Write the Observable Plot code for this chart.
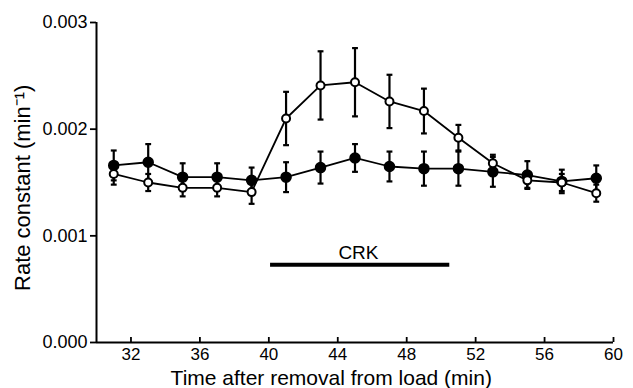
<!DOCTYPE html>
<html>
<head>
<meta charset="utf-8">
<script src="https://cdn.jsdelivr.net/npm/d3@7"></script>
<script src="https://cdn.jsdelivr.net/npm/@observablehq/plot@0.6"></script>
<style>
  html, body { margin: 0; padding: 0; background: #fff; }
</style>
</head>
<body>
<div id="chart"></div>
<script>
const times = [31, 33, 35, 37, 39, 41, 43, 45, 47, 49, 51, 53, 55, 57, 59];
const filledMean = [0.00166, 0.00169, 0.00155, 0.00155, 0.00152, 0.00155, 0.00164, 0.00173, 0.00165, 0.00163, 0.00163, 0.00160, 0.00157, 0.00151, 0.00154];
const filledErr  = [0.00014, 0.00017, 0.00013, 0.00013, 0.00012, 0.00014, 0.00015, 0.00013, 0.00014, 0.00016, 0.00016, 0.00014, 0.00013, 0.00011, 0.00012];
const openMean   = [0.00158, 0.00150, 0.00145, 0.00145, 0.00141, 0.00210, 0.00241, 0.00244, 0.00226, 0.00217, 0.00192, 0.00168, 0.00152, 0.00150, 0.00140];
const openErr    = [0.00010, 0.00008, 0.00008, 0.00008, 0.00011, 0.00025, 0.00032, 0.00032, 0.00025, 0.00021, 0.00012, 0.00008, 0.00007, 0.00008, 0.00008];
const xTicks = [32, 36, 40, 44, 48, 52, 56, 60];
const yTicks = [0, 0.001, 0.002, 0.003];
const crkStart = 40.1, crkEnd = 50.5, crkLevel = 0.00073;
const crkLabel = "CRK";
const xLabel = "Time after removal from load (min)";
const yLabel = "Rate constant (min\u207B\u00B9)";

const filled = times.map((t, i) => ({t, m: filledMean[i], e: filledErr[i]}));
const open = times.map((t, i) => ({t, m: openMean[i], e: openErr[i]}));
const cap = 0.17;

const errMarks = (data) => [
  Plot.ruleX(data, {x: "t", y1: d => d.m - d.e, y2: d => d.m + d.e, strokeWidth: 2.2}),
  Plot.link(data, {x1: d => d.t - cap, x2: d => d.t + cap, y1: d => d.m + d.e, y2: d => d.m + d.e, strokeWidth: 2.2}),
  Plot.link(data, {x1: d => d.t - cap, x2: d => d.t + cap, y1: d => d.m - d.e, y2: d => d.m - d.e, strokeWidth: 2.2})
];

const chart = Plot.plot({
  width: 633,
  height: 388,
  marginLeft: 96,
  marginRight: 20,
  marginTop: 22,
  marginBottom: 46,
  style: {fontFamily: "'Liberation Sans', Arial, sans-serif", fontSize: "18px", color: "#000", background: "#fff"},
  x: {domain: [30, 60]},
  y: {domain: [0, 0.003]},
  marks: [
    Plot.axisY({ticks: yTicks, tickFormat: d3.format(".3f"), tickSize: 6, tickPadding: 3, label: null, strokeWidth: 1.8, fontSize: 18}),
    Plot.axisX({ticks: xTicks, tickFormat: d => d, tickSize: 0, tickPadding: 5, label: null, fontSize: 17}),
    Plot.ruleX(xTicks, {x: d => d, y1: 0, y2: 0, insetTop: -5, strokeWidth: 1.8}),
    Plot.ruleX([30], {strokeWidth: 2}),
    Plot.ruleY([0], {strokeWidth: 2}),
    Plot.line(open, {x: "t", y: "m", strokeWidth: 1.8}),
    Plot.line(filled, {x: "t", y: "m", strokeWidth: 1.8}),
    ...errMarks(open),
    ...errMarks(filled),
    Plot.dot(filled, {x: "t", y: "m", r: 5, fill: "black", stroke: "black"}),
    Plot.dot(open, {x: "t", y: "m", r: 4, fill: "white", stroke: "black", strokeWidth: 2}),
    Plot.ruleY([crkLevel], {x1: crkStart, x2: crkEnd, strokeWidth: 4}),
    Plot.text([crkLabel], {x: 45.2, y: 0.00084, fontSize: 19}),
    Plot.text([xLabel], {x: 34.3, textAnchor: "start", frameAnchor: "bottom", dy: 42, fontSize: 21}),
    Plot.text([yLabel], {y: 0.00145, frameAnchor: "left", textAnchor: "middle", dx: -74, rotate: -90, fontSize: 22})
  ]
});
document.getElementById("chart").appendChild(chart);
</script>
</body>
</html>
